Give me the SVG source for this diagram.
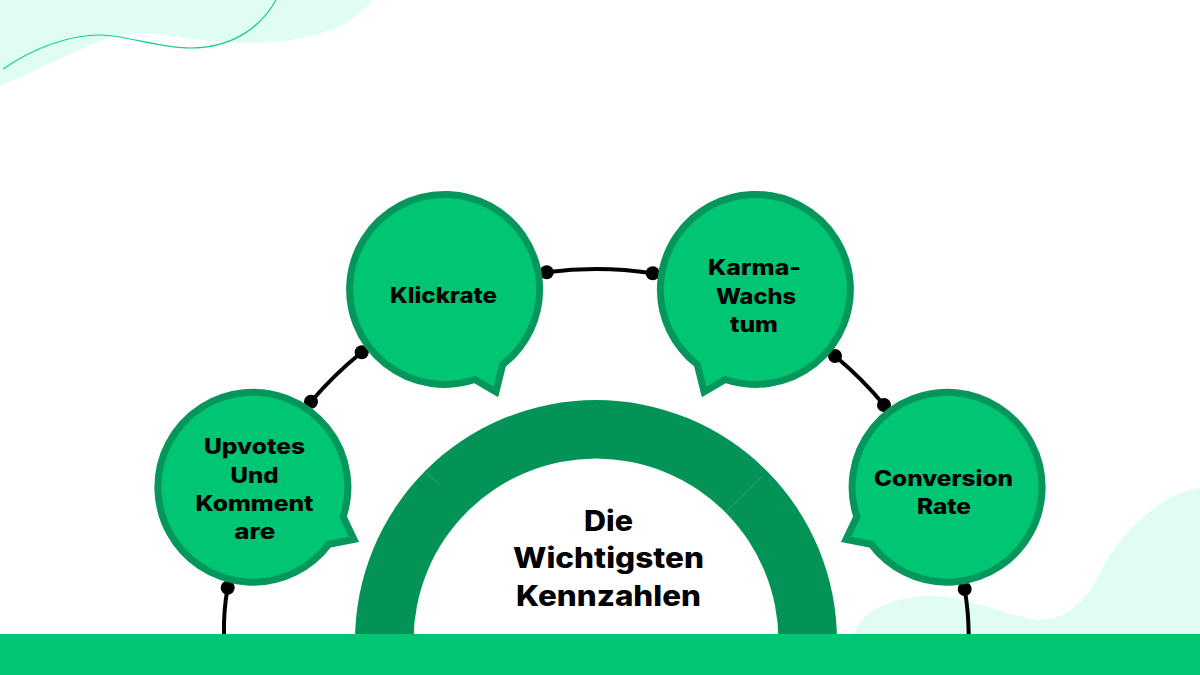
<svg xmlns="http://www.w3.org/2000/svg" width="1200" height="675" viewBox="0 0 1200 675">
<style>
.bubble{fill:#00C572;stroke:#05965C;stroke-width:7;stroke-linejoin:miter;stroke-miterlimit:10}
.lbl{font-family:"Inter","Liberation Sans",sans-serif;font-weight:800;font-size:21px;fill:#000}
.ttl{font-family:"Inter","Liberation Sans",sans-serif;font-weight:800;font-size:28px;fill:#000}
.con{fill:none;stroke:#000;stroke-width:4}
.dot{fill:#000}
.blob{fill:#E0FDF1}
</style>
<rect width="1200" height="675" fill="#fff"/>
<g id="background">
<path class="blob" d="M0 0H372C352 28 310 42 250 43C200 43 170 32 133 33C95 36 40 72 0 85Z"/>
<path d="M3 69C35 47 70 35 100 35C125 35 160 48 190 48C235 48 262 25 276 0" fill="none" stroke="#14D08C" stroke-width="1.200"/>
<path class="blob" d="M855 634C858 612 895 596 930 596C970 596 1010 618 1040 620C1065 620 1085 603 1100 573C1115 540 1160 492 1200 488V634Z"/>
</g>
<g id="hub">
<path d="M355 641A241 241 0 0 1 837 641H778.500A182.500 182.500 0 0 0 413.500 641Z" fill="#049357"/>
<path d="M426 472L440 485M761 477L727 511" stroke="#2FA878" stroke-width="0.800" fill="none"/>
<text class="ttl" x="584" y="531" textLength="49" lengthAdjust="spacingAndGlyphs">Die</text>
<text class="ttl" x="513" y="568.300" textLength="191" lengthAdjust="spacingAndGlyphs">Wichtigsten</text>
<text class="ttl" x="516" y="605.700" textLength="185" lengthAdjust="spacingAndGlyphs">Kennzahlen</text>
</g>
<g id="connectors">
<path class="con" d="M224 634Q223.500 610 227.700 587.700"/>
<path class="con" d="M311 401.700A377 377 0 0 1 361.700 352.300"/>
<path class="con" d="M546.700 272.300A377 377 0 0 1 652.700 273.300"/>
<path class="con" d="M835 356A377 377 0 0 1 884 405"/>
<path class="con" d="M964.700 589Q968.500 612 968.700 634"/>
<circle class="dot" cx="227.700" cy="587.700" r="7"/>
<circle class="dot" cx="311" cy="401.700" r="7"/>
<circle class="dot" cx="361.700" cy="352.300" r="7"/>
<circle class="dot" cx="546.700" cy="272.300" r="7"/>
<circle class="dot" cx="652.700" cy="273.300" r="7"/>
<circle class="dot" cx="835" cy="356" r="7"/>
<circle class="dot" cx="884" cy="405" r="7"/>
<circle class="dot" cx="964.700" cy="589" r="7"/>
</g>
<g id="node-upvotes">
<path class="bubble" d="M354 539.500L343.200 516.700A95 95 0 1 0 328.900 544.200Z"/>
<text class="lbl" x="204" y="454" textLength="101" lengthAdjust="spacingAndGlyphs">Upvotes</text>
<text class="lbl" x="230.500" y="482.700" textLength="48" lengthAdjust="spacingAndGlyphs">Und</text>
<text class="lbl" x="195.500" y="510.700" textLength="118" lengthAdjust="spacingAndGlyphs">Komment</text>
<text class="lbl" x="234.300" y="539" textLength="41" lengthAdjust="spacingAndGlyphs">are</text>
</g>
<g id="node-klickrate">
<path class="bubble" d="M495.900 391.800L502.700 364.600A95 95 0 1 0 474.800 379.500Z"/>
<text class="lbl" x="390" y="302.700" textLength="107" lengthAdjust="spacingAndGlyphs">Klickrate</text>
</g>
<g id="node-karma">
<path class="bubble" d="M704.100 391.800L697.300 364.600A95 95 0 1 1 725.200 379.500Z"/>
<text class="lbl" x="708" y="275" textLength="93" lengthAdjust="spacingAndGlyphs">Karma-</text>
<text class="lbl" x="716" y="303.500" textLength="80" lengthAdjust="spacingAndGlyphs">Wachs</text>
<text class="lbl" x="730" y="332" textLength="48" lengthAdjust="spacingAndGlyphs">tum</text>
</g>
<g id="node-conversion">
<path class="bubble" d="M846 539.500L856.800 516.700A95 95 0 1 1 871.100 544.200Z"/>
<text class="lbl" x="874" y="485.700" textLength="139" lengthAdjust="spacingAndGlyphs">Conversion</text>
<text class="lbl" x="917" y="513.500" textLength="54" lengthAdjust="spacingAndGlyphs">Rate</text>
</g>
<rect id="footer" x="0" y="634" width="1200" height="41" fill="#00C673"/>
</svg>
